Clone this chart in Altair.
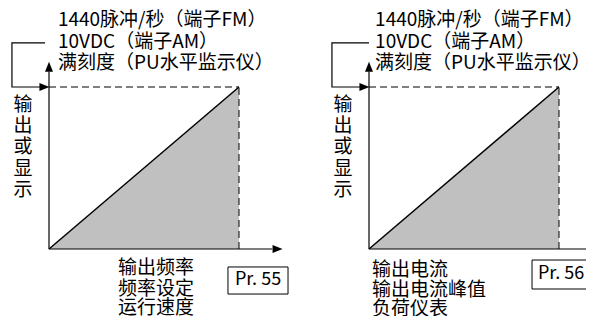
import altair as alt
import pandas as pd

# ---- data (full-scale = 100 on both axes) ----
panels = [0, 1]
ramp_x = [0, 100]
ramp_y = [0, 100]
top_lines = ["1440脉冲/秒（端子FM）", "10VDC（端子AM）", "满刻度（PU水平监示仪）"]
ylabel_chars = ["输", "出", "或", "显", "示"]
bottom_lines = [["输出频率", "频率设定", "运行速度"],
                ["输出电流", "输出电流峰值", "负荷仪表"]]
param_labels = ["Pr. 55", "Pr. 56"]

# ---- layout constants (data units) ----
PX_X = 1.9          # px per x unit
PX_Y = 1.62         # px per y unit
OFFSET = 320 / PX_X  # horizontal shift of the second panel
FONT = "Noto Sans CJK SC"
FS = 19

def shift(df):
    df = df.copy()
    df["gx"] = df["x"] + df["panel"] * OFFSET
    if "x2" in df:
        df["gx2"] = df["x2"] + df["panel"] * OFFSET
    return df

xs = alt.Scale(domain=[-41 / PX_X, (586 - 49) / PX_X], nice=False, zero=False)
ys = alt.Scale(domain=[(249 - 316) / PX_Y, (249 - 8) / PX_Y], nice=False, zero=False)
X = alt.X("gx:Q", scale=xs, axis=None)
Y = alt.Y("y:Q", scale=ys, axis=None)

# ramp (gray triangle + diagonal)
tri = shift(pd.DataFrame([{"panel": p, "x": x, "y": y, "y0": 0}
                          for p in panels for x, y in zip(ramp_x, ramp_y)]))
area = alt.Chart(tri).mark_area(color="#c0c0c0").encode(
    x=X, y=Y, y2="y0:Q", detail="panel:N")
diag = alt.Chart(tri).mark_line(color="black", strokeWidth=1.5).encode(
    x=X, y=Y, detail="panel:N")

# dashed full-scale guides
dash = shift(pd.DataFrame(
    [{"panel": p, "x": 0, "y": 100, "x2": 100, "y2": 100} for p in panels] +
    [{"panel": p, "x": 100, "y": 0, "x2": 100, "y2": 100} for p in panels]))
dashed = alt.Chart(dash).mark_rule(color="black", strokeWidth=1, strokeDash=[7, 4]).encode(
    x=X, y=Y, x2="gx2:Q", y2="y2:Q")

# axes lines
ax = shift(pd.DataFrame(
    [{"panel": p, "x": 0, "y": 0, "x2": 0, "y2": 109.5} for p in panels] +
    [{"panel": p, "x": 0, "y": 0, "x2": 117.5, "y2": 0} for p in panels]))
axes = alt.Chart(ax).mark_rule(color="black", strokeWidth=1.2).encode(
    x=X, y=Y, x2="gx2:Q", y2="y2:Q")

# bracket from labels to full-scale
br_end = [-2.1, 0]
br = shift(pd.DataFrame([
    {"panel": p, "i": i, "x": x, "y": y}
    for p in panels
    for i, (x, y) in enumerate([(br_end[p], 127.2), (-19.5, 127.2), (-19.5, 100), (-4.5, 100)])
]))
bracket = alt.Chart(br).mark_line(color="black", strokeWidth=1.2).encode(
    x=X, y=Y, order="i:Q", detail="panel:N")

# arrow heads
up = shift(pd.DataFrame([{"panel": p, "x": 0, "y": 112.5} for p in panels]))
right = shift(pd.DataFrame(
    [{"panel": p, "x": 120.3, "y": 0} for p in panels] +
    [{"panel": p, "x": -2.4, "y": 100} for p in panels]))
up_arrow = alt.Chart(up).mark_point(
    shape="M0,-1L0.8,1L-0.8,1Z", size=100, filled=True, color="black", opacity=1
).encode(x=X, y=Y)
right_arrow = alt.Chart(right).mark_point(
    shape="M1,0L-1,-0.8L-1,0.8Z", size=100, filled=True, color="black", opacity=1
).encode(x=X, y=Y)

# top label lines
top_x = [4.7, 3.2]
top_y = [141.4, 127.8, 114.8]
tl = shift(pd.DataFrame([{"panel": p, "x": top_x[p], "y": top_y[k], "t": s}
                         for p in panels for k, s in enumerate(top_lines)]))
top_text = alt.Chart(tl).mark_text(align="left", baseline="middle", font=FONT,
                                   fontSize=FS, color="black").encode(x=X, y=Y, text="t:N")

# vertical y label
yl_y = [88.9, 75.9, 63.0, 49.4, 36.4]
yl = shift(pd.DataFrame([{"panel": p, "x": -13.7, "y": yl_y[k], "t": c}
                         for p in panels for k, c in enumerate(ylabel_chars)]))
ylab = alt.Chart(yl).mark_text(align="center", baseline="middle", font=FONT,
                               fontSize=FS, color="black").encode(x=X, y=Y, text="t:N")

# bottom label lines
bot_x = [36.3, 1.6]
bot_y = [[-11.7, -24.7, -36.6], [-13.0, -25.3, -37.2]]
bl = shift(pd.DataFrame([{"panel": p, "x": bot_x[p], "y": bot_y[p][k], "t": s}
                         for p in panels for k, s in enumerate(bottom_lines[p])]))
bot_text = alt.Chart(bl).mark_text(align="left", baseline="middle", font=FONT,
                                   fontSize=FS, color="black").encode(x=X, y=Y, text="t:N")

# parameter boxes
bx = shift(pd.DataFrame([
    {"panel": 0, "x": 94.2, "x2": 125.8, "y": -11.1, "y2": -27.8, "ty": -19.4, "tx": 110.0, "t": param_labels[0]},
    {"panel": 1, "x": 85.8, "x2": 121.6, "y": -6.8, "y2": -24.7, "ty": -15.7, "tx": 101.1, "t": param_labels[1]},
]))
bx["gtx"] = bx["tx"] + bx["panel"] * OFFSET
boxes = alt.Chart(bx).mark_rect(fill="white", stroke="black", strokeWidth=1).encode(
    x=X, y=Y, x2="gx2:Q", y2="y2:Q")
box_text = alt.Chart(bx).mark_text(align="center", baseline="middle", font=FONT,
                                   fontSize=18, color="black").encode(
    x=alt.X("gtx:Q", scale=xs, axis=None), y=alt.Y("ty:Q", scale=ys, axis=None), text="t:N")

chart = alt.layer(
    area, diag, dashed, axes, bracket, up_arrow, right_arrow,
    top_text, ylab, bot_text, boxes, box_text
).properties(
    width=578, height=308, padding=0, autosize=alt.AutoSizeParams(type="none"),
    background="white"
).configure_view(stroke=None)

chart.save("out.html", embed_options={"renderer": "svg", "actions": False})
